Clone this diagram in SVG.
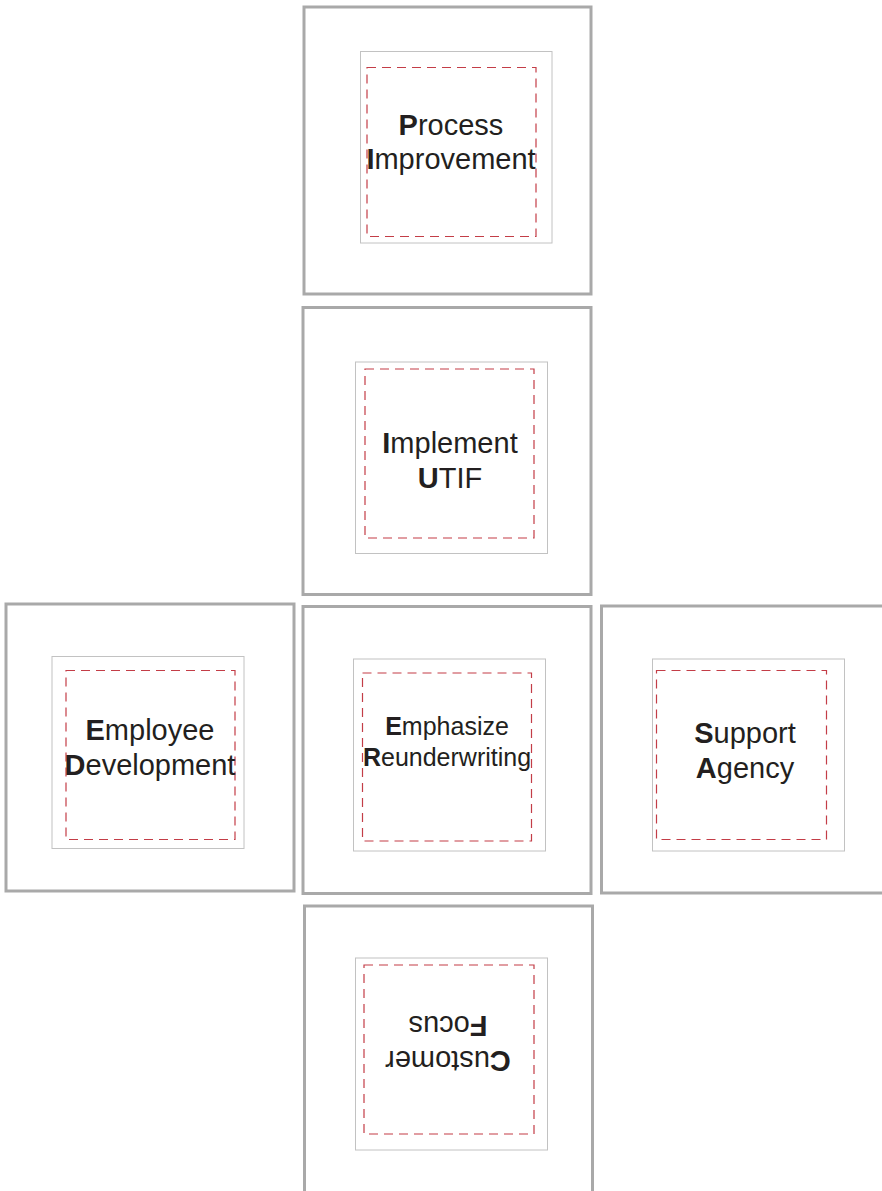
<svg xmlns="http://www.w3.org/2000/svg" width="882" height="1191" viewBox="0 0 882 1191">
<style>
.outer{fill:#fff;stroke:#a9a9a9;stroke-width:3}
.inner{fill:#fff;stroke:#c2c2c2;stroke-width:1}
.dash{fill:none;stroke:#c33d47;stroke-width:1.2;stroke-dasharray:9 6}
.lbl{font-family:"Liberation Sans",Arial,sans-serif;font-size:29px;fill:#231f20;text-anchor:middle}
.sm{font-size:25px}
.b{font-weight:bold}
</style>
<rect width="882" height="1191" fill="#fff"/>
<g id="process-improvement">
<rect class="outer" x="304" y="7" width="287" height="287"/>
<rect class="inner" x="360.5" y="51.5" width="191.5" height="191.5"/>
<rect class="dash" x="367" y="67.5" width="169" height="169"/>
<text class="lbl" x="451" y="135"><tspan class="b">P</tspan>rocess</text>
<text class="lbl" x="451" y="169"><tspan class="b">I</tspan>mprovement</text>
</g>
<g id="implement-utif">
<rect class="outer" x="303" y="307.5" width="288" height="287"/>
<rect class="inner" x="355.5" y="362" width="192" height="191.5"/>
<rect class="dash" x="365" y="369" width="169" height="169"/>
<text class="lbl" x="450" y="453"><tspan class="b">I</tspan>mplement</text>
<text class="lbl" x="450" y="488"><tspan class="b">U</tspan>TIF</text>
</g>
<g id="employee-development">
<rect class="outer" x="6" y="604" width="288" height="287"/>
<rect class="inner" x="52" y="656.5" width="192" height="192"/>
<rect class="dash" x="66" y="670.5" width="169" height="169"/>
<text class="lbl" x="150" y="740"><tspan class="b">E</tspan>mployee</text>
<text class="lbl" x="150" y="775"><tspan class="b">D</tspan>evelopment</text>
</g>
<g id="emphasize-reunderwriting">
<rect class="outer" x="303" y="606.5" width="288" height="287"/>
<rect class="inner" x="353.5" y="659" width="192" height="192"/>
<rect class="dash" x="362.5" y="673" width="169" height="168"/>
<text class="lbl sm" x="447" y="735"><tspan class="b">E</tspan>mphasize</text>
<text class="lbl sm" x="447" y="766"><tspan class="b">R</tspan>eunderwriting</text>
</g>
<g id="support-agency">
<rect class="outer" x="601.5" y="606" width="290" height="287"/>
<rect class="inner" x="652.5" y="659" width="192" height="192"/>
<rect class="dash" x="656.5" y="670.5" width="170" height="169"/>
<text class="lbl" x="745" y="743"><tspan class="b">S</tspan>upport</text>
<text class="lbl" x="745" y="778"><tspan class="b">A</tspan>gency</text>
</g>
<g id="customer-focus">
<rect class="outer" x="304.5" y="906" width="288" height="300"/>
<rect class="inner" x="355.5" y="958" width="192" height="192"/>
<rect class="dash" x="364" y="965" width="170" height="169"/>
<g transform="rotate(180 448 1050)">
<text class="lbl" x="448" y="1049"><tspan class="b">C</tspan>ustomer</text>
<text class="lbl" x="448" y="1084"><tspan class="b">F</tspan>ocus</text>
</g>
</g>
<g id="connectors"></g>
</svg>
